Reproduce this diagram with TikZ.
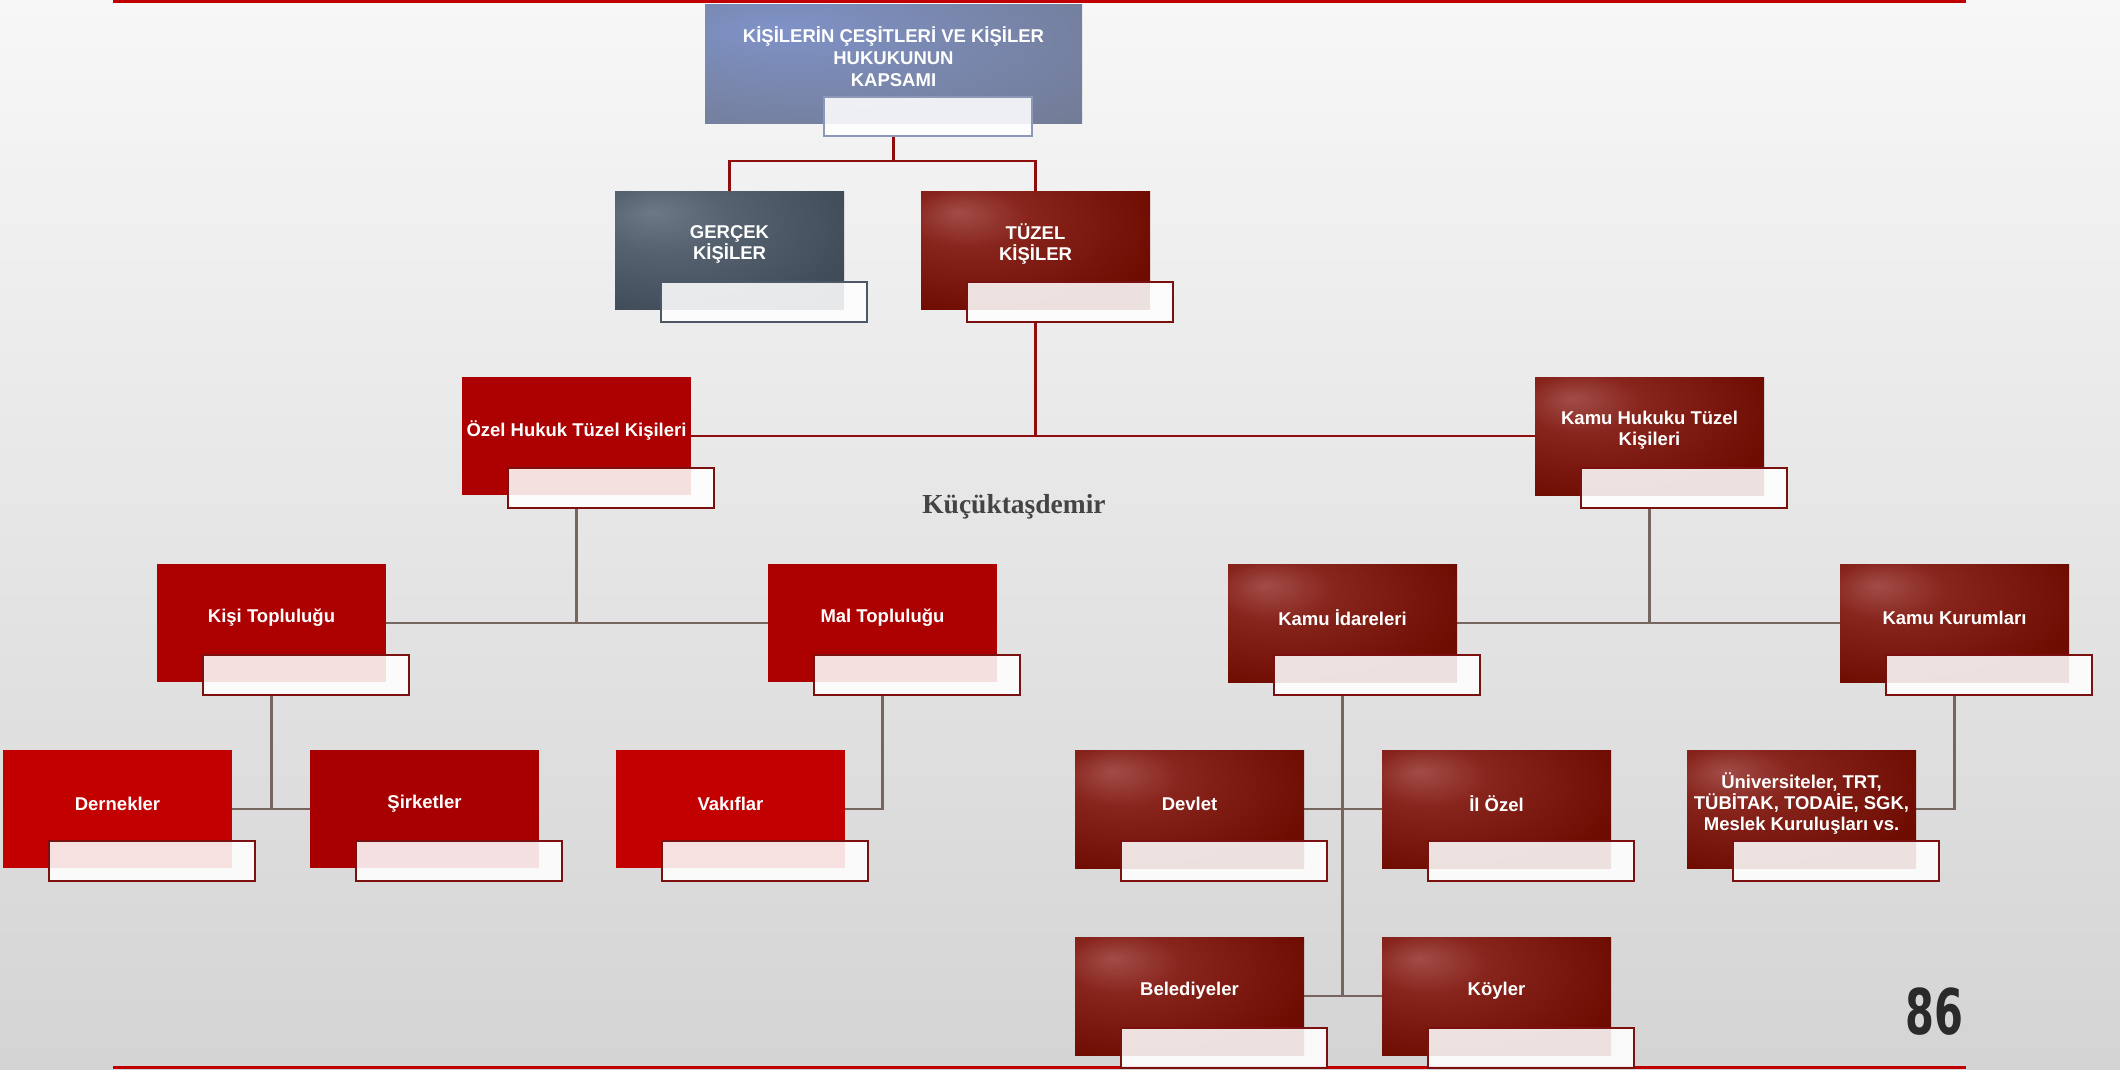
\documentclass[tikz,border=0pt]{standalone}
\usepackage{fontspec}
\setmainfont{Liberation Sans}
\newfontfamily\serifbold{Liberation Serif}
\newfontfamily\numfont{DejaVu Sans}
\usetikzlibrary{calc}
\definecolor{bgtop}{HTML}{F7F7F7}
\definecolor{bgmid}{HTML}{E7E7E7}
\definecolor{bgbot}{HTML}{D4D4D4}
\definecolor{lineRed}{HTML}{C00000}
\definecolor{brred}{HTML}{AD0000}
\definecolor{brredB}{HTML}{C20000}
\definecolor{brredC}{HTML}{A80000}
\definecolor{drhl}{HTML}{A24C48}
\definecolor{drmid}{HTML}{87241C}
\definecolor{drbase}{HTML}{6E0C02}
\definecolor{gyhl}{HTML}{6C7886}
\definecolor{gymid}{HTML}{56626F}
\definecolor{gybase}{HTML}{3E4A58}
\definecolor{tphl}{HTML}{7F92C8}
\definecolor{tpmid}{HTML}{7A89B2}
\definecolor{tpbase}{HTML}{737C96}
\definecolor{wbRed}{HTML}{7B1010}
\definecolor{wbGray}{HTML}{4D5866}
\definecolor{wbTop}{HTML}{8C98B8}
\definecolor{connRed}{HTML}{8E0E0E}
\definecolor{connGray}{HTML}{76665F}
\definecolor{authorGray}{HTML}{444444}
\definecolor{numGray}{HTML}{2A2A2A}
\pgfdeclareradialshading{drshading}{\pgfpoint{-17bp}{16bp}}{color(0bp)=(drhl); color(13bp)=(drmid); color(38bp)=(drbase); color(90bp)=(drbase)}
\pgfdeclareradialshading{gyshading}{\pgfpoint{-17bp}{16bp}}{color(0bp)=(gyhl); color(14bp)=(gymid); color(40bp)=(gybase); color(90bp)=(gybase)}
\pgfdeclareradialshading{tpshading}{\pgfpoint{-16bp}{15bp}}{color(0bp)=(tphl); color(18bp)=(tpmid); color(45bp)=(tpbase); color(90bp)=(tpbase)}
\pgfdeclarelayer{back}
\pgfdeclarelayer{bg}
\pgfsetlayers{back,bg,main}
\newcommand\mybox[6]{%
  \node[boxbase,#4] (#1) at (#2,#3) {};
  \node[wbox,draw=#5] (#1-w) at (#2+46,#3+91) {};
  \node[btext] at ([yshift=5.5pt]#1.center) {#6};
}
\begin{document}
\begin{tikzpicture}[x=1pt,y=-1pt,
  boxbase/.style={rectangle,anchor=north west,minimum width=229pt,minimum height=118pt,inner sep=0pt,outer sep=0pt},
  wbox/.style={rectangle,anchor=north west,minimum width=206pt,minimum height=40pt,inner sep=0pt,outer sep=0pt,fill=white,fill opacity=0.88,draw opacity=1,line width=2.5pt},
  btext/.style={text=white,align=center,font=\bfseries\fontsize{18.5}{21}\selectfont,inner sep=0pt},
  redA/.style={fill=brred},
  redB/.style={fill=brredB},
  redC/.style={fill=brredC},
  dark/.style={shading=drshading},
  grayb/.style={shading=gyshading},
  c1/.style={draw=connRed,line width=2.5pt},
  c2/.style={draw=connGray,line width=2.5pt},
  redline/.style={draw=lineRed,line width=3pt}
]
\useasboundingbox (0,0) rectangle (2120,1069);
\begin{pgfonlayer}{back}
  \shade[top color=bgtop,middle color=bgmid,bottom color=bgbot] (0,0) rectangle (2120,1069);
  \draw[redline] (113,1) -- (1966,1);
  \draw[redline] (113,1067.5) -- (1966,1067.5);
\end{pgfonlayer}

% root
\node[rectangle,anchor=north west,minimum width=377pt,minimum height=119pt,inner sep=0pt,outer sep=0pt,shading=tpshading] (top) at (705,4) {};
\node[wbox,draw=wbTop,line width=1.8pt,minimum width=208pt,minimum height=39pt] (top-w) at (824,97) {};
\node[btext,font=\bfseries\fontsize{18.5}{22}\selectfont] at ([yshift=6.5pt]top.center) {KİŞİLERİN ÇEŞİTLERİ VE KİŞİLER\\HUKUKUNUN\\KAPSAMI};

\mybox{gercek}{615}{191}{grayb}{wbGray}{GERÇEK\\KİŞİLER}
\mybox{tuzel}{921}{191}{dark}{wbRed}{TÜZEL\\KİŞİLER}
\mybox{ozel}{462}{377}{redA}{wbRed}{Özel Hukuk Tüzel Kişileri}
\mybox{kamuh}{1535}{377}{dark}{wbRed}{Kamu Hukuku Tüzel\\Kişileri}
\mybox{kisi}{157}{564}{redA}{wbRed}{Kişi Topluluğu}
\mybox{mal}{768}{564}{redA}{wbRed}{Mal Topluluğu}
\mybox{kamui}{1228}{564}{dark}{wbRed}{Kamu İdareleri}
\mybox{kamuk}{1840}{564}{dark}{wbRed}{Kamu Kurumları}
\mybox{dern}{3}{750}{redB}{wbRed}{Dernekler}
\mybox{sirk}{310}{750}{redC}{wbRed}{Şirketler}
\mybox{vakif}{616}{750}{redB}{wbRed}{Vakıflar}
\mybox{devlet}{1075}{750}{dark}{wbRed}{Devlet}
\mybox{ilozel}{1382}{750}{dark}{wbRed}{İl Özel}
\mybox{univ}{1687}{750}{dark}{wbRed}{\fontsize{18.5}{19.8}\selectfont Üniversiteler, TRT,\\TÜBİTAK, TODAİE, SGK,\\Meslek Kuruluşları vs.}
\mybox{beled}{1075}{937}{dark}{wbRed}{Belediyeler}
\mybox{koy}{1382}{937}{dark}{wbRed}{Köyler}

\node[anchor=base,text=authorGray,font=\serifbold\bfseries\fontsize{27.5}{30}\selectfont,inner sep=0pt] (author) at (1014,513) {Küçüktaşdemir};
\node[anchor=base,text=numGray,font=\numfont\bfseries\fontsize{63}{66}\selectfont,inner sep=0pt,xscale=0.66] (pagenum) at (1934,1034) {86};

\begin{pgfonlayer}{bg}
  \draw[c1] (top.south |- top-w.south) -- ++(0,25) -| (gercek.north);
  \draw[c1] (top.south |- top-w.south) -- ++(0,25) -| (tuzel.north);
  \draw[c1] (tuzel.south |- tuzel-w.south) -- (tuzel.south |- ozel.east);
  \draw[c1] (ozel.east) -- (kamuh.west);
  \draw[c2] (ozel.south |- ozel-w.south) -- (ozel.south |- kisi.east);
  \draw[c2] (kisi.east) -- (mal.west);
  \draw[c2] (kamuh.south |- kamuh-w.south) -- (kamuh.south |- kamui.east);
  \draw[c2] (kamui.east) -- (kamuk.west);
  \draw[c2] (kisi.south |- kisi-w.south) -- (kisi.south |- dern.east);
  \draw[c2] (dern.east) -- (sirk.west);
  \draw[c2] (mal.south |- mal-w.south) -- (mal.south |- vakif.east) -- (vakif.east);
  \draw[c2] (kamui.south |- kamui-w.south) -- (kamui.south |- beled.east);
  \draw[c2] (devlet.east) -- (ilozel.west);
  \draw[c2] (beled.east) -- (koy.west);
  \draw[c2] (kamuk.south |- kamuk-w.south) -- (kamuk.south |- univ.east) -- (univ.east);
\end{pgfonlayer}
\end{tikzpicture}
\end{document}
